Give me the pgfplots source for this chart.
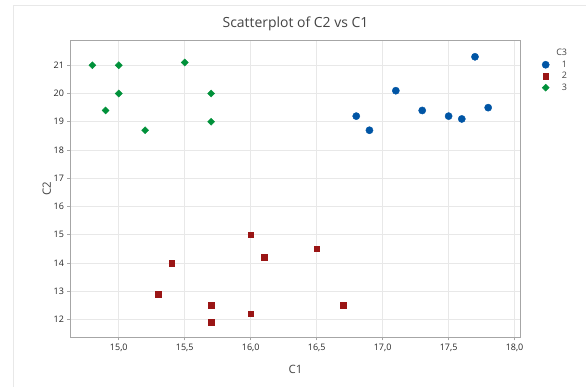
\documentclass[border=0pt]{standalone}
\usepackage{pgfplots}
\pgfplotsset{compat=1.18}
\usepackage{fontspec}
\setmainfont{Open Sans}
\definecolor{cblue}{HTML}{0055A5}
\definecolor{cred}{HTML}{9A1515}
\definecolor{cgreen}{HTML}{00913A}
\definecolor{gridc}{HTML}{E8E8E8}
\definecolor{axc}{HTML}{A6A6A6}
\definecolor{txt}{HTML}{262626}
\definecolor{ltxt}{HTML}{444444}
\begin{document}
\begin{tikzpicture}
\useasboundingbox (0bp,0bp) rectangle (586bp,387bp);
\fill[white] (0bp,0bp) rectangle (586bp,387bp);
\draw[gridc,line width=0.8bp] (13bp,0bp) -- (13bp,382bp) -- (586bp,382bp);
\begin{axis}[
  at={(70.5bp,49.7bp)}, anchor=south west,
  scale only axis, width=450bp, height=296.6bp,
  xmin=14.634, xmax=18.045, ymin=11.37, ymax=21.87,
  xtick={15,15.5,...,18}, ytick={12,13,...,21},
  xtick pos=left, ytick pos=left,
  grid=major, major grid style={gridc, line width=0.6bp},
  axis line style={axc, line width=0.8bp},
  tick style={axc, line width=0.6bp},
  tick align=outside, major tick length=3bp,
  xticklabel style={/pgf/number format/.cd, fixed, fixed zerofill, precision=1, use comma},
  /pgf/number format/assume math mode=true,
  ticklabel style={font=\fontsize{9}{10}\selectfont, text=txt},
  xlabel={C1}, ylabel={C2},
  label style={font=\fontsize{11.5}{13}\selectfont, text=ltxt},
  xlabel style={yshift=-7bp},
  ylabel style={yshift=-4bp},
  title={Scatterplot of C2 vs C1},
  title style={font=\fontsize{14}{16}\selectfont, text=ltxt, at={(0.5,1)}, anchor=center, yshift=11bp},
  legend style={at={(1.03,0.985)}, anchor=north west, draw=none, fill=none,
    font=\fontsize{9}{11}\selectfont, text=ltxt, row sep=-0.5bp, column sep=5bp},
  legend cell align=right,
]
\addlegendimage{empty legend}
\addlegendentry{C3}
\addplot[only marks, mark=*, mark size=3.6bp, color=cblue] coordinates {
 (16.8,19.2) (16.9,18.7) (17.1,20.1) (17.3,19.4) (17.5,19.2) (17.6,19.1) (17.7,21.3) (17.8,19.5)};
\addlegendentry{1}
\addplot[only marks, mark=square*, mark size=2.8bp, color=cred] coordinates {
 (15.3,12.9) (15.4,14.0) (15.7,12.5) (15.7,11.9) (16.0,15.0) (16.0,12.2) (16.1,14.2) (16.5,14.5) (16.7,12.5)};
\addlegendentry{2}
\addplot[only marks, mark=square*, mark size=2.5bp, mark options={rotate=45}, color=cgreen] coordinates {
 (14.8,21.0) (15.0,21.0) (15.0,20.0) (14.9,19.4) (15.2,18.7) (15.5,21.1) (15.7,20.0) (15.7,19.0)};
\addlegendentry{3}
\end{axis}
\end{tikzpicture}
\end{document}
